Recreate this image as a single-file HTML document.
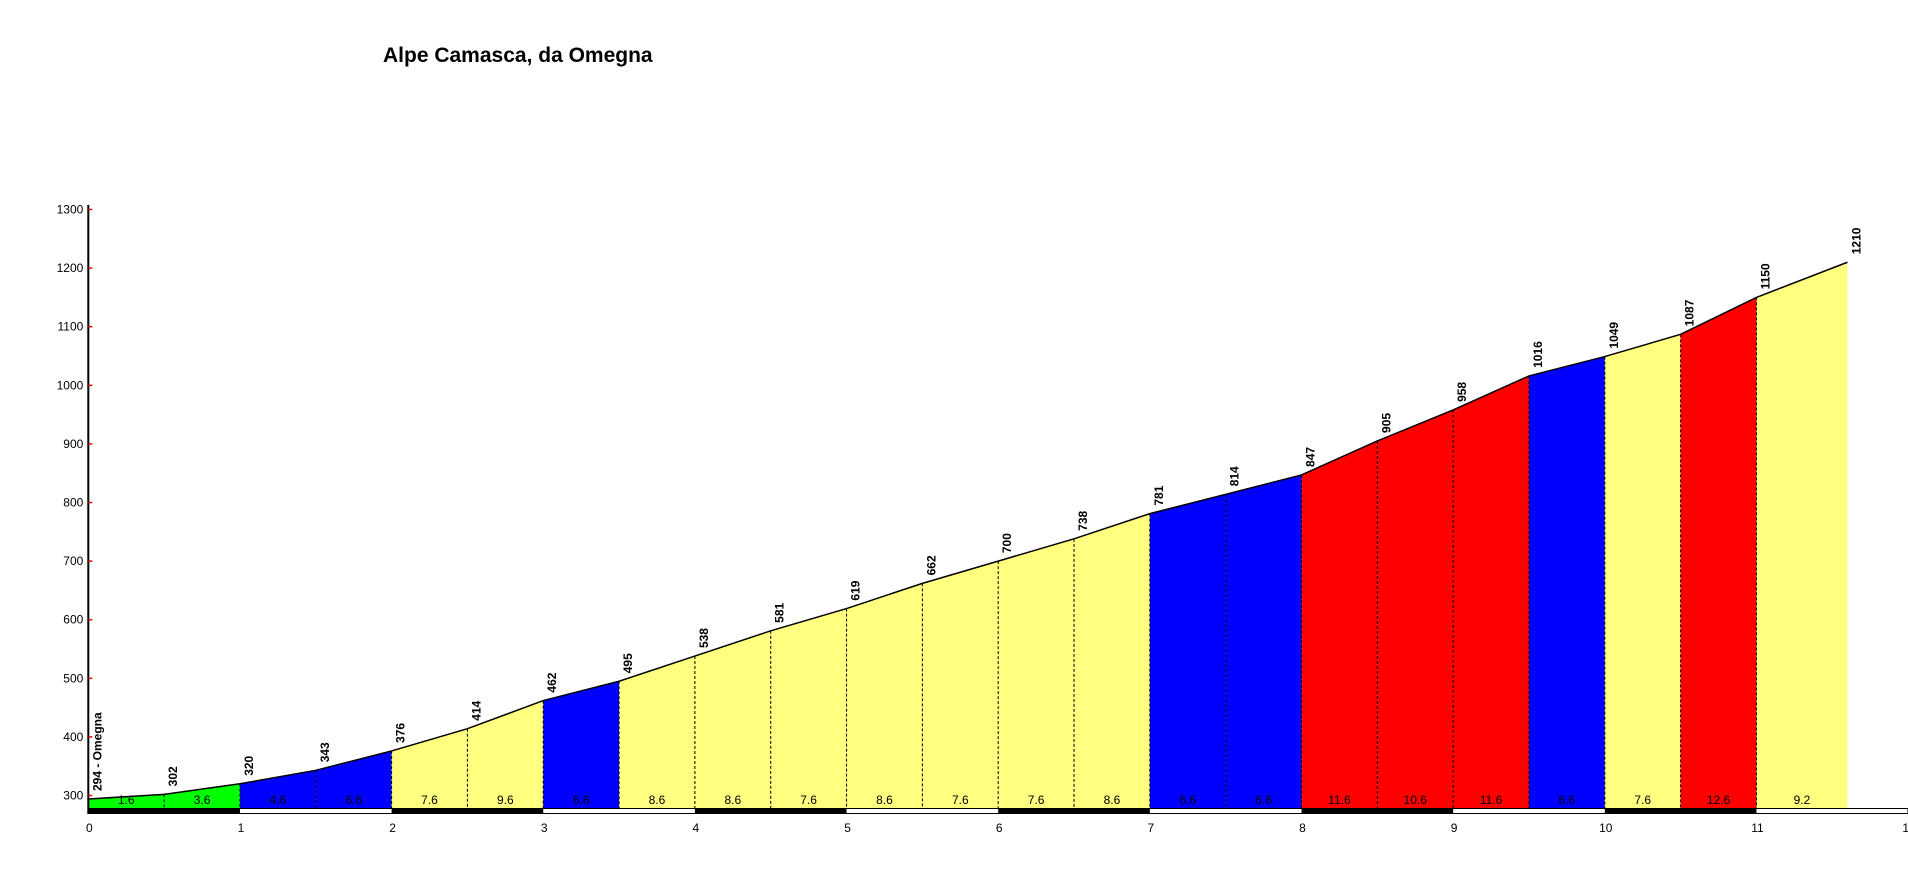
<!DOCTYPE html>
<html><head><meta charset="utf-8"><style>
html,body{margin:0;padding:0;background:#fff;width:1908px;height:873px;overflow:hidden}
svg{display:block;font-family:"Liberation Sans",sans-serif}
</style></head><body>
<svg id="c" width="1908" height="873" xmlns="http://www.w3.org/2000/svg">
<text x="383" y="62" font-size="21" font-weight="bold" fill="#000">Alpe Camasca, da Omegna</text>
</svg>
<script>
var s=document.getElementById('c'),NS='http://www.w3.org/2000/svg';
function el(t,a,txt){var e=document.createElementNS(NS,t);for(var k in a)e.setAttribute(k,a[k]);if(txt!=null)e.textContent=txt;s.appendChild(e);return e;}
var X0=88.3,KX=151.65,Y13=209.5,PY=0.586,BASE=808;
function X(k){return X0+k*KX;} function Y(v){return Y13+(1300-v)*PY;}
var el_=[294,302,320,343,376,414,462,495,538,581,619,662,700,738,781,814,847,905,958,1016,1049,1087,1150,1210];
var km=[];for(var i=0;i<23;i++)km.push(i*0.5);km.push(11.6);
var G='#00ff00',B='#0000ff',Yl='#ffff80',R='#ff0000';
var col=[G,G,B,B,Yl,Yl,B,Yl,Yl,Yl,Yl,Yl,Yl,Yl,B,B,R,R,R,B,Yl,R,Yl];
var lab=['1.6','3.6','4.6','6.6','7.6','9.6','6.6','8.6','8.6','7.6','8.6','7.6','7.6','8.6','6.6','6.6','11.6','10.6','11.6','6.6','7.6','12.6','9.2'];
for(var i=0;i<23;i++){
 var x1=X(km[i]),x2=X(km[i+1]);
 el('polygon',{points:x1+','+BASE+' '+x1+','+Y(el_[i])+' '+x2+','+Y(el_[i+1])+' '+x2+','+BASE,fill:col[i]});
 el('text',{x:(x1+x2)/2,y:804,'font-size':12,'text-anchor':'middle',fill:'#000'},lab[i]);
}
for(var i=1;i<23;i++){var x=X(km[i]);el('line',{x1:x,y1:Y(el_[i]),x2:x,y2:BASE,stroke:'#000','stroke-width':1,'stroke-dasharray':'3,2'});}
var p='';for(var i=0;i<24;i++)p+=X(km[i])+','+Y(el_[i])+' ';
el('polyline',{points:p,fill:'none',stroke:'#000','stroke-width':1.5});
for(var i=0;i<24;i++){var x=X(km[i])+13,y=Y(el_[i])-8;var t=i==0?'294 - Omegna':String(el_[i]);
 el('text',{x:x,y:y,'font-size':12,'font-weight':'bold',transform:'rotate(-90 '+x+' '+y+')',fill:'#000'},t);}
el('rect',{x:X0,y:808.5,width:1908-X0,height:5,fill:'#fff',stroke:'#000','stroke-width':1});
for(var k=0;k<11;k+=2){el('rect',{x:X(k),y:808,width:KX,height:6,fill:'#000'});}
el('line',{x1:X0,y1:205,x2:X0,y2:814,stroke:'#000','stroke-width':2});
for(var v=300;v<=1300;v+=100){var y=Y(v);el('line',{x1:X0,y1:y,x2:X0+4,y2:y,stroke:'#e00','stroke-width':1.5});
 el('text',{x:X0-5,y:y+4,'font-size':12,'text-anchor':'end',fill:'#000'},v);}
for(var k=0;k<=12;k++){el('text',{x:X(k)+1,y:832,'font-size':12,'text-anchor':'middle',fill:'#000'},k);}
</script>
</body></html>
